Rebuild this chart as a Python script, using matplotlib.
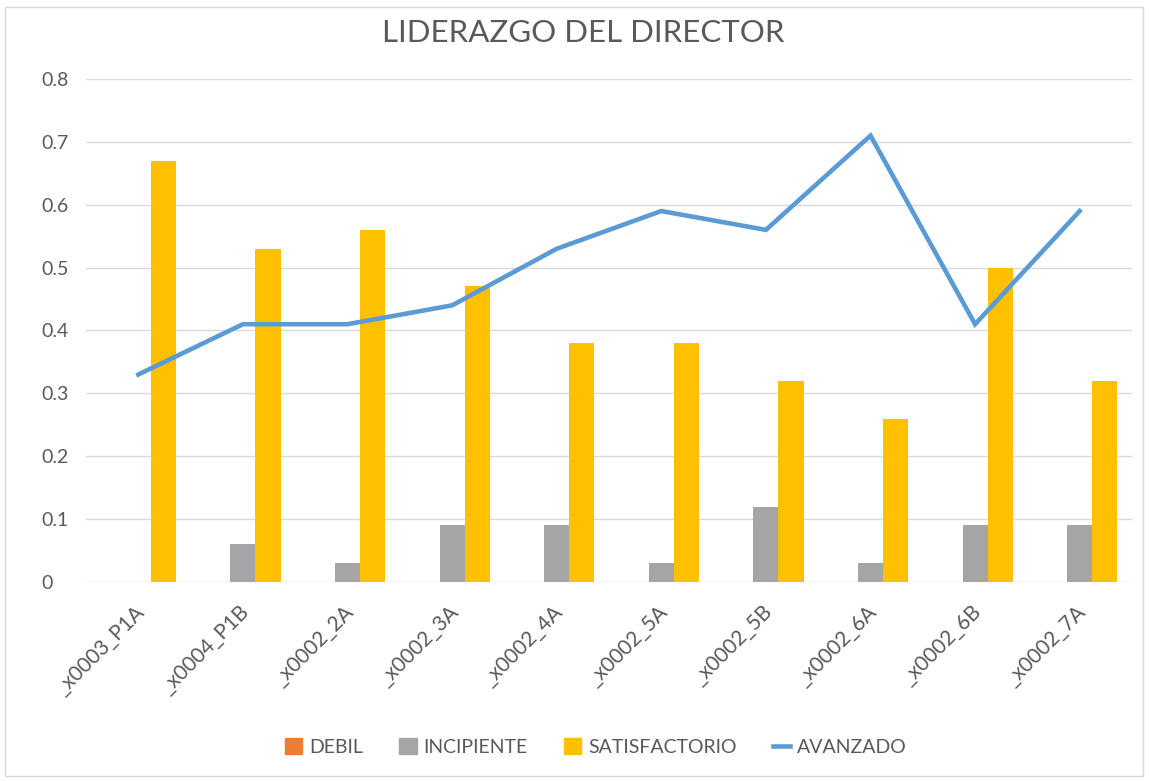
import matplotlib
matplotlib.use("Agg")
import matplotlib.pyplot as plt
import matplotlib.transforms as mtrans
import numpy as np
from matplotlib.patches import Rectangle
from matplotlib.lines import Line2D

categories = ["_x0003_P1A", "_x0004_P1B", "_x0002_2A", "_x0002_3A", "_x0002_4A",
              "_x0002_5A", "_x0002_5B", "_x0002_6A", "_x0002_6B", "_x0002_7A"]
debil = [0, 0, 0, 0, 0, 0, 0, 0, 0, 0]
incipiente = [0, 0.06, 0.03, 0.09, 0.09, 0.03, 0.12, 0.03, 0.09, 0.09]
satisfactorio = [0.67, 0.53, 0.56, 0.47, 0.38, 0.38, 0.32, 0.26, 0.50, 0.32]
avanzado = [0.33, 0.41, 0.41, 0.44, 0.53, 0.59, 0.56, 0.71, 0.41, 0.59]
yticks = [0, 0.1, 0.2, 0.3, 0.4, 0.5, 0.6, 0.7, 0.8]
ytick_labels = ["0", "0.1", "0.2", "0.3", "0.4", "0.5", "0.6", "0.7", "0.8"]

c_debil = "#ED7D31"
c_inc = "#A5A5A5"
c_sat = "#FFC000"
c_av = "#5B9BD5"
txt = "#595959"

plt.rcParams['font.family'] = ['Lato', 'DejaVu Sans']
FS = 14

W, H = 1149, 781
fig = plt.figure(figsize=(W / 100, H / 100), dpi=100)
fig.patches.append(Rectangle((5 / W, 1 - 776 / H), 1138 / W, 769 / H,
                             transform=fig.transFigure, fill=False,
                             edgecolor="#D9D9D9", lw=1))
ax = fig.add_axes([86 / W, 1 - 582 / H, 1046 / W, 503 / H])

x = np.arange(len(categories))
bw = 0.24
ax.bar(x - bw, debil, bw, color=c_debil, zorder=3)
ax.bar(x, incipiente, bw, color=c_inc, zorder=3)
ax.bar(x + bw, satisfactorio, bw, color=c_sat, zorder=3)
ax.plot(x, avanzado, color=c_av, lw=3.3, zorder=4, solid_joinstyle='miter')

ax.set_xlim(-0.5, len(categories) - 0.5)
ax.set_ylim(0, 0.8)
ax.set_yticks(yticks)
ax.set_yticklabels(ytick_labels, ha='left')
ax.grid(axis='y', color="#D9D9D9", lw=1, zorder=0)
for s in ax.spines.values():
    s.set_visible(False)
ax.tick_params(axis='y', length=0, pad=0, labelsize=FS, labelcolor=txt)
# left-align y labels at x = 41 px
yoff = mtrans.ScaledTranslation(-(86 - 41) / 100, 0, fig.dpi_scale_trans)
for lab in ax.get_yticklabels():
    lab.set_transform(lab.get_transform() + yoff)

ax.tick_params(axis='x', length=0, pad=14, labelsize=15, labelcolor=txt)
ax.set_xticks(x)
ax.set_xticklabels(categories, rotation=45, ha='right', va='top',
                   rotation_mode='anchor')
off = mtrans.ScaledTranslation(-4 / 100, 0, fig.dpi_scale_trans)
for lab in ax.get_xticklabels():
    lab.set_transform(lab.get_transform() + off)

fig.text(583 / W, 1 - 33 / H, "LIDERAZGO DEL DIRECTOR", ha='center', va='center',
         fontsize=22.5, color=txt)

handles = [Rectangle((0, 0), 1, 1, color=c_debil),
           Rectangle((0, 0), 1, 1, color=c_inc),
           Rectangle((0, 0), 1, 1, color=c_sat),
           Line2D([0], [0], color=c_av, lw=3.3)]
labels = ["DEBIL", "INCIPIENTE", "SATISFACTORIO", "AVANZADO"]
leg = fig.legend(handles, labels, loc='center', bbox_to_anchor=(596 / W, 1 - 747 / H),
                 ncol=4, frameon=False, fontsize=FS, handlelength=0.9,
                 handleheight=0.85, handletextpad=0.36, columnspacing=1.85,
                 labelcolor=txt)

fig.savefig("out.png", dpi=100)
